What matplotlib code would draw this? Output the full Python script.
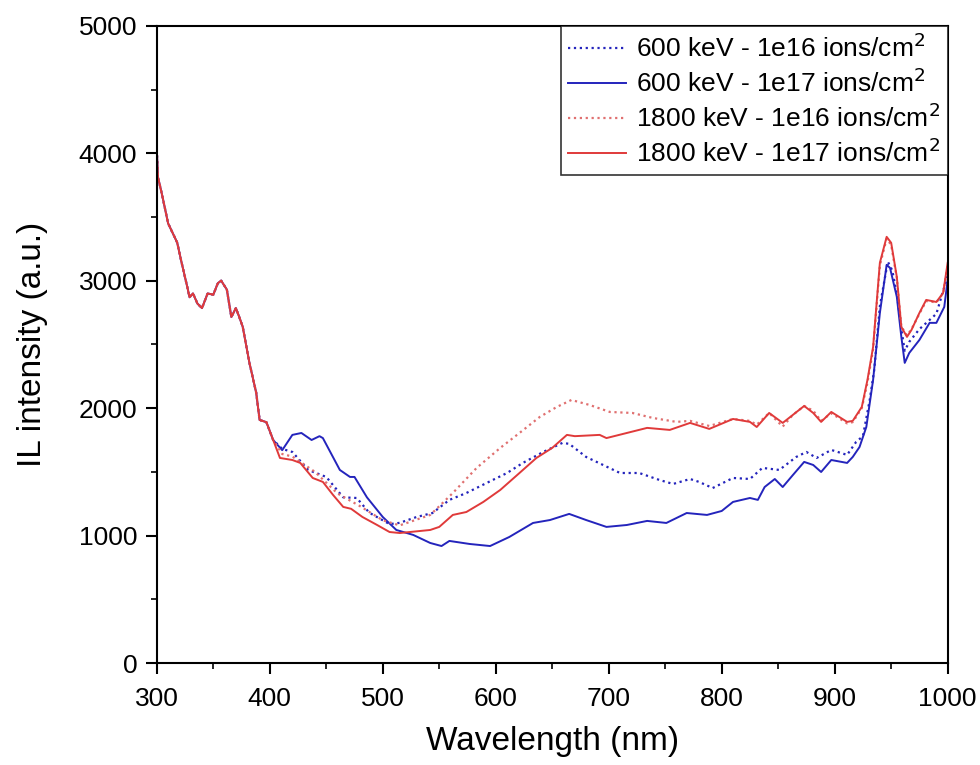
import matplotlib.pyplot as plt
from matplotlib.ticker import MultipleLocator

plt.rcParams['font.family'] = ['Liberation Sans', 'DejaVu Sans']

# common start (all four spectra overlap below ~405 nm)
wl_common = [300, 301, 305, 310, 314, 318, 322, 327, 329, 332, 336, 340, 345, 350, 354, 357,
             362, 366, 370, 373, 376, 382, 388, 391, 397, 403]
il_common = [4030, 3815, 3660, 3450, 3375, 3300, 3140, 2950, 2870, 2900, 2820, 2785, 2900, 2890,
             2980, 3000, 2930, 2715, 2785, 2715, 2640, 2355, 2120, 1907, 1890, 1750]

# 600 keV - 1e16 (dotted blue)
wl_600_16 = [411, 420, 434, 450, 465, 477, 488, 506, 515, 530, 544, 559, 574, 592, 610, 624, 642,
             659, 665, 680, 695, 710, 727, 745, 757, 772, 780, 792, 810, 825, 836, 851, 866, 875,
             884, 897, 911, 919, 925, 931, 935, 940, 947, 951, 955, 959, 962, 966, 975, 985, 990, 1000]
il_600_16 = [1680, 1656, 1515, 1460, 1300, 1295, 1180, 1090, 1100, 1146, 1177, 1280, 1334, 1413,
             1491, 1570, 1656, 1727, 1720, 1617, 1554, 1491, 1491, 1436, 1405, 1444, 1421, 1373,
             1452, 1444, 1531, 1515, 1617, 1656, 1609, 1672, 1633, 1735, 1780, 2064, 2300, 2800,
             3150, 3080, 2900, 2620, 2450, 2520, 2620, 2700, 2740, 3040]

# 600 keV - 1e17 (solid blue)
wl_600_17 = [411, 420, 428, 437, 444, 447, 462, 471, 475, 486, 500, 512, 527, 542, 552, 559, 577,
             595, 612, 633, 648, 665, 680, 698, 716, 734, 751, 769, 787, 800, 810, 825, 832, 838,
             847, 854, 863, 873, 881, 888, 897, 911, 916, 922, 928, 934, 940, 946, 949, 955, 959,
             962, 966, 975, 984, 990, 997, 1000]
il_600_17 = [1670, 1790, 1805, 1750, 1780, 1765, 1515, 1460, 1460, 1300, 1146, 1044, 1005, 942,
             918, 958, 934, 918, 989, 1099, 1122, 1170, 1122, 1068, 1083, 1115, 1099, 1177, 1162,
             1193, 1264, 1295, 1280, 1381, 1444, 1381, 1475, 1578, 1554, 1499, 1593, 1570, 1617,
             1695, 1852, 2221, 2747, 3124, 3100, 2873, 2559, 2355, 2433, 2535, 2669, 2669, 2794, 3006]

# 1800 keV - 1e16 (dotted red)
wl_1800_16 = [411, 420, 440, 460, 480, 500, 515, 542, 553, 562, 583, 604, 621, 639, 654, 667, 683,
              701, 721, 739, 760, 772, 789, 810, 825, 831, 842, 854, 863, 873, 881, 888, 897, 911,
              916, 924, 929, 934, 940, 946, 950, 955, 959, 964, 968, 975, 981, 990, 996, 1000]
il_1800_16 = [1640, 1620, 1500, 1330, 1230, 1120, 1080, 1162, 1256, 1334, 1530, 1688, 1805, 1931,
              2009, 2064, 2025, 1970, 1962, 1923, 1892, 1900, 1860, 1915, 1900, 1870, 1962, 1855,
              1947, 2017, 1980, 1900, 1960, 1880, 1890, 2000, 2200, 2460, 3120, 3330, 3280, 3020,
              2640, 2570, 2620, 2740, 2840, 2830, 2900, 3120]

# 1800 keV - 1e17 (solid red)
wl_1800_17 = [409, 420, 427, 438, 447, 456, 465, 472, 482, 495, 506, 515, 542, 550, 562, 574, 589,
              604, 621, 636, 650, 663, 670, 692, 698, 716, 734, 754, 772, 789, 810, 825, 831, 842,
              854, 863, 873, 881, 888, 897, 911, 916, 924, 929, 934, 940, 946, 950, 955, 959, 964,
              968, 975, 981, 990, 996, 1000]
il_1800_17 = [1609, 1593, 1570, 1452, 1421, 1319, 1225, 1210, 1146, 1083, 1028, 1020, 1044, 1068,
              1162, 1185, 1264, 1358, 1491, 1609, 1688, 1790, 1780, 1790, 1765, 1805, 1845, 1829,
              1884, 1837, 1915, 1892, 1852, 1962, 1884, 1947, 2017, 1962, 1892, 1970, 1892, 1900,
              2009, 2221, 2480, 3140, 3344, 3297, 3030, 2637, 2559, 2614, 2747, 2849, 2833, 2904, 3140]

labels = ['600 keV - 1e16 ions/cm$^2$', '600 keV - 1e17 ions/cm$^2$',
          '1800 keV - 1e16 ions/cm$^2$', '1800 keV - 1e17 ions/cm$^2$']

blue = '#2424bc'
red = '#e03a3a'

fig = plt.figure(figsize=(9.8, 7.65), dpi=100)
ax = fig.add_axes([0.160, 0.1333, 0.807, 0.833])

ax.plot(wl_common + wl_600_16, il_common + il_600_16, c=blue, ls=':', lw=1.6, label=labels[0])
ax.plot(wl_common + wl_600_17, il_common + il_600_17, c=blue, ls='-', lw=1.4, label=labels[1])
ax.plot(wl_common + wl_1800_16, il_common + il_1800_16, c='#e07070', ls=':', lw=1.6, label=labels[2])
ax.plot(wl_common + wl_1800_17, il_common + il_1800_17, c=red, ls='-', lw=1.4, label=labels[3])

ax.set_xlim(300, 1000)
ax.set_ylim(0, 5000)
ax.xaxis.set_major_locator(MultipleLocator(100))
ax.xaxis.set_minor_locator(MultipleLocator(50))
ax.yaxis.set_major_locator(MultipleLocator(1000))
ax.yaxis.set_minor_locator(MultipleLocator(500))
ax.tick_params(which='major', direction='out', length=8, width=1.5, labelsize=19, pad=6)
ax.tick_params(axis='x', which='major', pad=9)
ax.tick_params(which='minor', direction='out', length=4, width=1.2)
for s in ax.spines.values():
    s.set_linewidth(1.5)

ax.set_xlabel('Wavelength (nm)', fontsize=24, labelpad=11)
ax.set_ylabel('IL intensity (a.u.)', fontsize=24, labelpad=22)

leg = ax.legend(loc='upper right', fontsize=19, frameon=True, fancybox=False,
                borderaxespad=0, borderpad=0.3, handlelength=2.2, handletextpad=0.35,
                labelspacing=0.25)
leg.get_frame().set_edgecolor('k')
leg.get_frame().set_linewidth(1.2)

fig.savefig('out.png', dpi=100)
